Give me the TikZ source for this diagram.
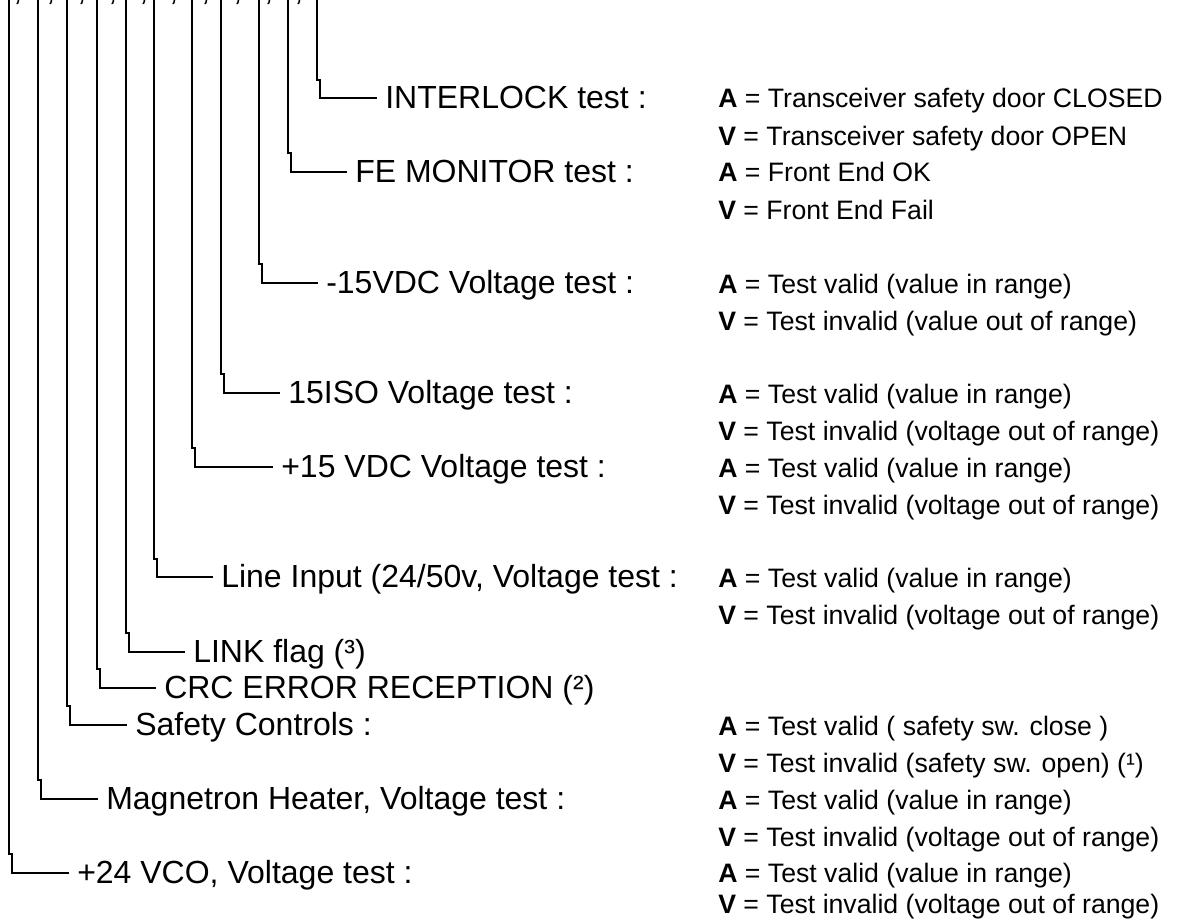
\documentclass[tikz,border=0pt]{standalone}
\usepackage{fontspec}
\setmainfont{Liberation Sans}
\begin{document}
\begin{tikzpicture}[x=0.75pt,y=-0.75pt,
  conn/.style={line width=1.5pt, line join=miter},
  lbl/.style={anchor=west, inner xsep=6pt, inner ysep=0pt, text height=15.75pt, text depth=0pt, font=\fontsize{24}{28}\selectfont},
  desc/.style={anchor=base west, inner sep=0pt, font=\fontsize{20}{24}\selectfont},
  commamark/.style={anchor=base west, inner sep=0pt, font=\fontsize{24}{28}\selectfont}]
\useasboundingbox (0,0) rectangle (1181,921);

% cut-off commas at the top edge
\foreach \cx [count=\i] in {13,46,77,108,139,169,201,233,264,294}
  \node[commamark] (comma\i) at (\cx,0.5) {,};

% labels
\node[lbl] (l11) at (377,98)  {INTERLOCK test :};
\node[lbl] (l10) at (347,172) {FE MONITOR test :};
\node[lbl] (l9)  at (318,283) {-15VDC Voltage test :};
\node[lbl] (l8)  at (280,393) {15ISO Voltage test :};
\node[lbl] (l7)  at (273,467) {+15 VDC Voltage test :};
\node[lbl] (l6)  at (213,577) {Line Input (24/50v, Voltage test :};
\node[lbl] (l5)  at (185,652) {LINK flag (³)};
\node[lbl] (l4)  at (156,688) {CRC ERROR RECEPTION (²)};
\node[lbl] (l3)  at (127,725) {Safety Controls :};
\node[lbl] (l2)  at (98,799)  {Magnetron Heater, Voltage test :};
\node[lbl] (l1)  at (69,873)  {+24 VCO, Voltage test :};

% top coordinates
\coordinate (t1)  at (9,0);
\coordinate (t2)  at (38,0);
\coordinate (t3)  at (67,0);
\coordinate (t4)  at (97,0);
\coordinate (t5)  at (126,0);
\coordinate (t6)  at (154,0);
\coordinate (t7)  at (192,0);
\coordinate (t8)  at (221,0);
\coordinate (t9)  at (259,0);
\coordinate (t10) at (288,0);
\coordinate (t11) at (317,0);

% connectors
\draw[conn] (t11) -- ++(0,80)  -- ++(3,0) |- (l11.west);
\draw[conn] (t10) -- ++(0,153) -- ++(3,0) |- (l10.west);
\draw[conn] (t9)  -- ++(0,264) -- ++(3,0) |- (l9.west);
\draw[conn] (t8)  -- ++(0,374) -- ++(3,0) |- (l8.west);
\draw[conn] (t7)  -- ++(0,448) -- ++(3,0) |- (l7.west);
\draw[conn] (t6)  -- ++(0,559) -- ++(3,0) |- (l6.west);
\draw[conn] (t5)  -- ++(0,633) -- ++(3,0) |- (l5.west);
\draw[conn] (t4)  -- ++(0,669) -- ++(3,0) |- (l4.west);
\draw[conn] (t3)  -- ++(0,706) -- ++(3,0) |- (l3.west);
\draw[conn] (t2)  -- ++(0,780) -- ++(3,0) |- (l2.west);
\draw[conn] (t1)  -- ++(0,854) -- ++(3,0) |- (l1.west);

% descriptions
\node[desc] (d11a) at (718,107.5) {\textbf{A} = Transceiver safety door CLOSED};
\node[desc] (d11v) at (718,145)   {\textbf{V} = Transceiver safety door OPEN};
\node[desc] (d10a) at (718,181.5) {\textbf{A} = Front End OK};
\node[desc] (d10v) at (718,219)   {\textbf{V} = Front End Fail};
\node[desc] (d9a)  at (718,293)   {\textbf{A} = Test valid (value in range)};
\node[desc] (d9v)  at (718,330)   {\textbf{V} = Test invalid (value out of range)};
\node[desc] (d8a)  at (718,403)   {\textbf{A} = Test valid (value in range)};
\node[desc] (d8v)  at (718,440)   {\textbf{V} = Test invalid (voltage out of range)};
\node[desc] (d7a)  at (718,477)   {\textbf{A} = Test valid (value in range)};
\node[desc] (d7v)  at (718,514)   {\textbf{V} = Test invalid (voltage out of range)};
\node[desc] (d6a)  at (718,587)   {\textbf{A} = Test valid (value in range)};
\node[desc] (d6v)  at (718,624)   {\textbf{V} = Test invalid (voltage out of range)};
\node[desc] (d3a)  at (718,735)   {\textbf{A} = Test valid ( safety sw. close )};
\node[desc] (d3v)  at (718,772)   {\textbf{V} = Test invalid (safety sw. open) (¹)};
\node[desc] (d2a)  at (718,809)   {\textbf{A} = Test valid (value in range)};
\node[desc] (d2v)  at (718,846)   {\textbf{V} = Test invalid (voltage out of range)};
\node[desc] (d1a)  at (718,882)   {\textbf{A} = Test valid (value in range)};
\node[desc] (d1v)  at (718,913.5) {\textbf{V} = Test invalid (voltage out of range)};
\end{tikzpicture}
\end{document}
